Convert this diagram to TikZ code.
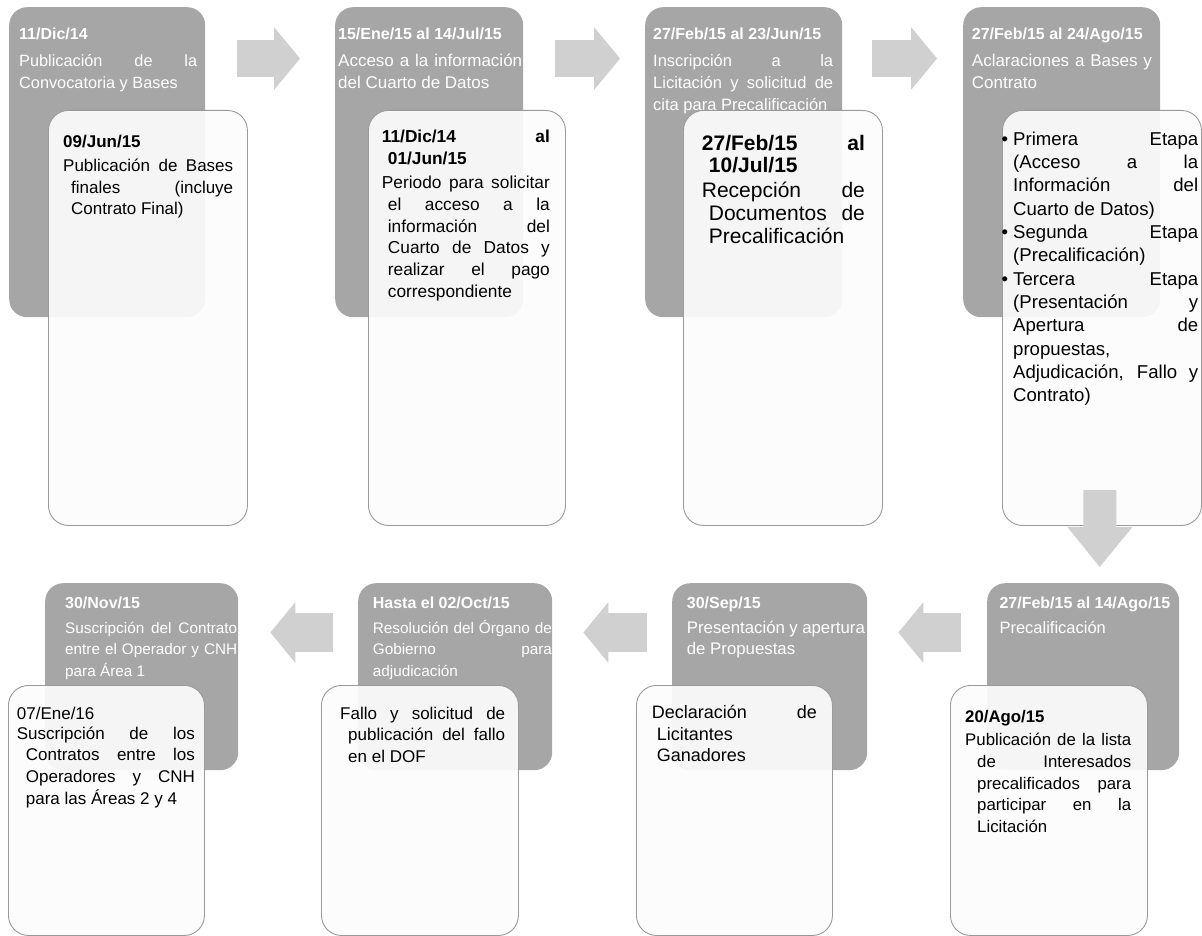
\documentclass[tikz,border=0pt]{standalone}
\usepackage{fontspec}
\setmainfont{Liberation Sans}
\usetikzlibrary{arrows.meta,positioning,calc}
\definecolor{stagegray}{HTML}{A6A6A6}
\definecolor{flowgray}{HTML}{D0D0D0}
\definecolor{cardline}{HTML}{9A9A9A}
\definecolor{cardfill}{HTML}{FCFCFC}
\newcommand{\hd}[1]{\fontsize{#1}{21.7}\bfseries}
\newcommand{\bd}[2]{\fontsize{#1}{#2}\mdseries}
\newcommand{\hang}[1]{\hangindent=#1pt\hangafter=1\relax}
\newcommand{\bul}{\leavevmode\llap{\textbullet\hspace{5pt}}}
\tolerance=10000 \pretolerance=-1 \hbadness=10000 \hyphenpenalty=10000

\begin{document}
\begin{tikzpicture}[x=1pt,y=-1pt,
    stage/.style={fill=stagegray,rounded corners=18pt,inner sep=0pt,anchor=north west},
    card/.style={draw=cardline,line width=0.9pt,fill=cardfill,fill opacity=0.93,rounded corners=20pt,inner sep=0pt,anchor=north west},
    stagetxt/.style={text=white,anchor=north west,inner sep=0pt,align=justify},
    cardtxt/.style={text=black,anchor=north west,inner sep=0pt,align=justify},
    flow/.style n args={3}{draw=flowgray,line width=#1pt,-{Triangle[length=#2pt,width=#3pt,line width=0pt]}}]
        \useasboundingbox (0,0) rectangle (1202,936);

        \node[stage,minimum width=196pt,minimum height=310pt] (s1) at (9,7) {};
        \node[stagetxt,text width=178pt] (s1t) at (19,27.5) {\hd{16}11/Dic/14\par\vspace{6pt}\bd{16.3}{21.7}Publicación de la\linebreak Convocatoria y Bases\par};
        \node[card,minimum width=199pt,minimum height=415pt] (c1) at (48,110) {};
        \node[cardtxt,text width=170pt] (c1t) at (63,135) {\hd{17}\hang{8}09/Jun/15\par\vspace{2.3pt}\bd{17}{21.7}\hang{8}Publicación de Bases\linebreak finales (incluye\linebreak Contrato Final)\par};

        \node[stage,minimum width=188pt,minimum height=310pt] (s2) at (335,7) {};
        \node[stagetxt,text width=184pt] (s2t) at (338,27.5) {\hd{16}15/Ene/15 al 14/Jul/15\par\vspace{6pt}\bd{17}{21.7}Acceso a la información\linebreak del Cuarto de Datos\par};
        \node[card,minimum width=197pt,minimum height=415pt] (c2) at (368,110) {};
        \node[cardtxt,text width=168pt] (c2t) at (381.7,130) {\hd{17.3}\hang{6}11/Dic/14 al\linebreak 01/Jun/15\par\vspace{2.5pt}\bd{17.3}{21.7}\hang{6}Periodo para solicitar\linebreak el acceso a la\linebreak información del\linebreak Cuarto de Datos y\linebreak realizar el pago\linebreak correspondiente\par};

        \node[stage,minimum width=197pt,minimum height=310pt] (s3) at (645,7) {};
        \node[stagetxt,text width=180pt] (s3t) at (653,27.5) {\hd{16}27/Feb/15 al 23/Jun/15\par\vspace{6pt}\bd{16.5}{21.7}Inscripción a la\linebreak Licitación y solicitud de\linebreak cita para Precalificación\par};
        \node[card,minimum width=199pt,minimum height=415pt] (c3) at (683,110) {};
        \node[cardtxt,text width=163pt] (c3t) at (701.7,135) {\hd{21}\hang{7}27/Feb/15 al\linebreak 10/Jul/15\par\vspace{1.7pt}\bd{21}{23.3}\hang{7}Recepción de\linebreak Documentos de\linebreak Precalificación\par};

        \node[stage,minimum width=197pt,minimum height=310pt] (s4) at (963,7) {};
        \node[stagetxt,text width=180pt] (s4t) at (971.7,27.5) {\hd{16}27/Feb/15 al 24/Ago/15\par\vspace{6pt}\bd{17}{21.7}Aclaraciones a Bases y\linebreak Contrato\par};
        \node[card,minimum width=199pt,minimum height=415pt] (c4) at (1002,110) {};
        \node[cardtxt,text width=185pt] (c4t) at (1013,131.7) {\bd{18.6}{23.3}\bul Primera Etapa\linebreak (Acceso a la\linebreak Información del\linebreak Cuarto de Datos)\par
          \bul Segunda Etapa\linebreak (Precalificación)\par
          \bul Tercera Etapa\linebreak (Presentación y\linebreak Apertura de\linebreak propuestas,\linebreak Adjudicación, Fallo y\linebreak Contrato)\par};

        \node[stage,minimum width=192pt,minimum height=187pt] (s8) at (987,583) {};
        \node[stagetxt,text width=176pt] (s8t) at (999.3,596.7) {\hd{16}27/Feb/15 al 14/Ago/15\par\vspace{3pt}\bd{16.5}{21.7}Precalificación\par};
        \node[card,minimum width=197pt,minimum height=250pt] (c8) at (950,685) {};
        \node[cardtxt,text width=166pt] (c8t) at (965,710) {\hd{16.8}\hang{12}20/Ago/15\par\vspace{1.6pt}\bd{16.8}{21.7}\hang{12}Publicación de la lista\linebreak de Interesados\linebreak precalificados para\linebreak participar en la\linebreak Licitación\par};

        \node[stage,minimum width=195pt,minimum height=187pt] (s7) at (672,583) {};
        \node[stagetxt,text width=178pt] (s7t) at (686.7,596.7) {\hd{16}30/Sep/15\par\vspace{3pt}\bd{16.8}{21.7}Presentación y apertura\linebreak de Propuestas\par};
        \node[card,minimum width=196pt,minimum height=250pt] (c7) at (636,685) {};
        \node[cardtxt,text width=165pt] (c7t) at (651.7,705) {\bd{18}{21.7}\hang{5}Declaración de\linebreak Licitantes\linebreak Ganadores\par};

        \node[stage,minimum width=194pt,minimum height=187pt] (s6) at (358,583) {};
        \node[stagetxt,text width=179pt] (s6t) at (372.7,596.7) {\hd{16}Hasta el 02/Oct/15\par\vspace{3pt}\bd{15.3}{21.7}Resolución del Órgano de\linebreak Gobierno para\linebreak adjudicación\par};
        \node[card,minimum width=197pt,minimum height=250pt] (c6) at (321,685) {};
        \node[cardtxt,text width=165pt] (c6t) at (340,706.7) {\bd{17}{21.7}\hang{8}Fallo y solicitud de\linebreak publicación del fallo\linebreak en el DOF\par};

        \node[stage,minimum width=193pt,minimum height=187pt] (s5) at (45,583) {};
        \node[stagetxt,text width=172pt] (s5t) at (65,596.7) {\hd{16}30/Nov/15\par\vspace{3pt}\bd{15.3}{21.7}Suscripción del Contrato\linebreak entre el Operador y CNH\linebreak para Área 1\par};
        \node[card,minimum width=196pt,minimum height=250pt] (c5) at (8,685) {};
        \node[cardtxt,text width=178pt] (c5t) at (16.7,706.7) {\bd{17}{21.7}\hang{9}07/Ene/16\par\vspace{-1.7pt}\hang{9}Suscripción de los\linebreak Contratos entre los\linebreak Operadores y CNH\linebreak para las Áreas 2 y 4\par};

        \draw[flow={37}{26}{63}] ([xshift=32pt,yshift=-51.5pt]s1.north east) -- ([xshift=-35pt,yshift=-51.5pt]s2.north west);
        \draw[flow={37}{26}{63}] ([xshift=32pt,yshift=-51.5pt]s2.north east) -- ([xshift=-25pt,yshift=-51.5pt]s3.north west);
        \draw[flow={37}{26}{63}] ([xshift=30pt,yshift=-51.5pt]s3.north east) -- ([xshift=-26pt,yshift=-51.5pt]s4.north west);
        \draw[flow={33}{40}{65}] ([xshift=-2pt,yshift=36pt]c4.south) -- ([xshift=16.5pt,yshift=16pt]s8.north);
        \draw[flow={39}{25}{61}] ([xshift=-26pt,yshift=-49.5pt]s8.north west) -- ([xshift=31pt,yshift=-49.5pt]s7.north east);
        \draw[flow={39}{25}{61}] ([xshift=-25pt,yshift=-49.5pt]s7.north west) -- ([xshift=31pt,yshift=-49.5pt]s6.north east);
        \draw[flow={39}{25}{61}] ([xshift=-25pt,yshift=-49.5pt]s6.north west) -- ([xshift=32pt,yshift=-49.5pt]s5.north east);
\end{tikzpicture}
\end{document}
